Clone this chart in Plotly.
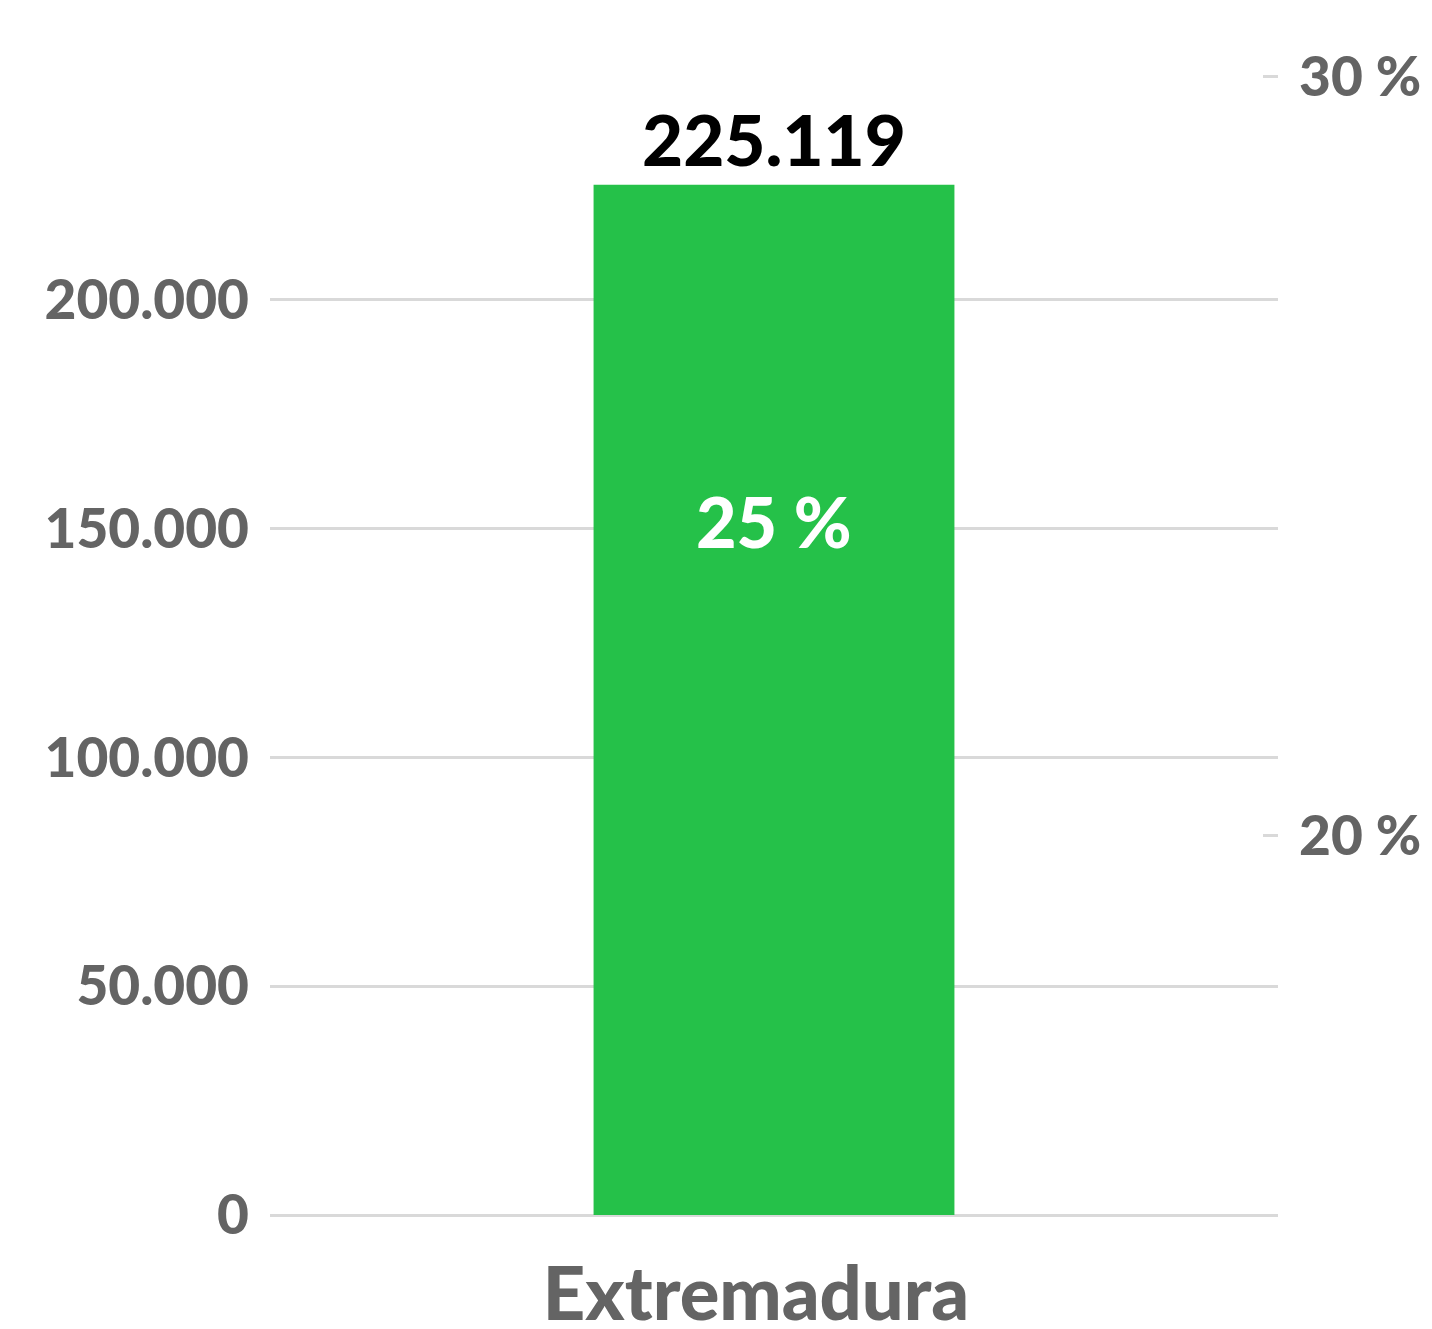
import plotly.graph_objects as go

# data
regions = ["Extremadura"]
totals = [225119]
shares = [25]
left_ticks = [0, 50000, 100000, 150000, 200000]
left_labels = ["0", "50.000", "100.000", "150.000", "200.000"]
right_ticks = [20, 30]
right_labels = ["20 %", "30 %"]

_FONT = "Lato, 'Open Sans', sans-serif"
GREEN = "#25c149"
GRAY = "#646464"
GRID = "#d9d9d9"
W = 900

fig = go.Figure()
fig.add_trace(
    go.Bar(
        x=regions,
        y=totals,
        marker={"color": GREEN, "line": {"width": 0}},
        showlegend=False,
    )
)
# invisible trace to activate the secondary axis
fig.add_trace(
    go.Scatter(
        x=regions,
        y=shares,
        yaxis="y2",
        mode="markers",
        marker={"opacity": 0},
        showlegend=False,
        hoverinfo="skip",
    )
)

fig.update_layout(
    width=1424,
    height=1321,
    paper_bgcolor="#ffffff",
    plot_bgcolor="#ffffff",
    font={"family": _FONT, "color": GRAY},
    margin={"l": 262, "r": 154, "t": 63, "b": 114},
    bargap=0.642,
    xaxis={
        "showgrid": False,
        "showline": False,
        "automargin": False,
        "tickfont": {"size": 74, "color": GRAY, "weight": W},
        "ticklabelstandoff": 30,
        "ticklabelshift": -18,
    },
    yaxis={
        "range": [0, 250000],
        "tickvals": left_ticks,
        "ticktext": left_labels,
        "automargin": False,
        "showgrid": True,
        "gridcolor": GRID,
        "gridwidth": 3,
        "zeroline": True,
        "zerolinecolor": GRID,
        "zerolinewidth": 3,
        "tickfont": {"size": 55, "color": GRAY, "weight": W},
        "ticklabelstandoff": 20,
    },
    yaxis2={
        "overlaying": "y",
        "side": "right",
        "range": [15, 30.07],
        "tickvals": right_ticks,
        "ticktext": right_labels,
        "automargin": False,
        "showgrid": False,
        "zeroline": False,
        "ticks": "inside",
        "ticklen": 15,
        "tickwidth": 3,
        "tickcolor": GRID,
        "tickfont": {"size": 55, "color": GRAY, "weight": W},
        "ticklabelstandoff": 20,
    },
)

for region, total, share in zip(regions, totals, shares):
    fig.add_annotation(
        x=region,
        y=total,
        text=f"{total:,}".replace(",", "."),
        showarrow=False,
        yanchor="bottom",
        yshift=2,
        font={"size": 71, "color": "#000000", "family": _FONT, "weight": W},
    )
    fig.add_annotation(
        x=region,
        y=share,
        yref="y2",
        text=f"{share} %",
        showarrow=False,
        yshift=-65,
        font={"size": 70, "color": "#ffffff", "family": _FONT, "weight": W},
    )

fig.write_html("out.html")
